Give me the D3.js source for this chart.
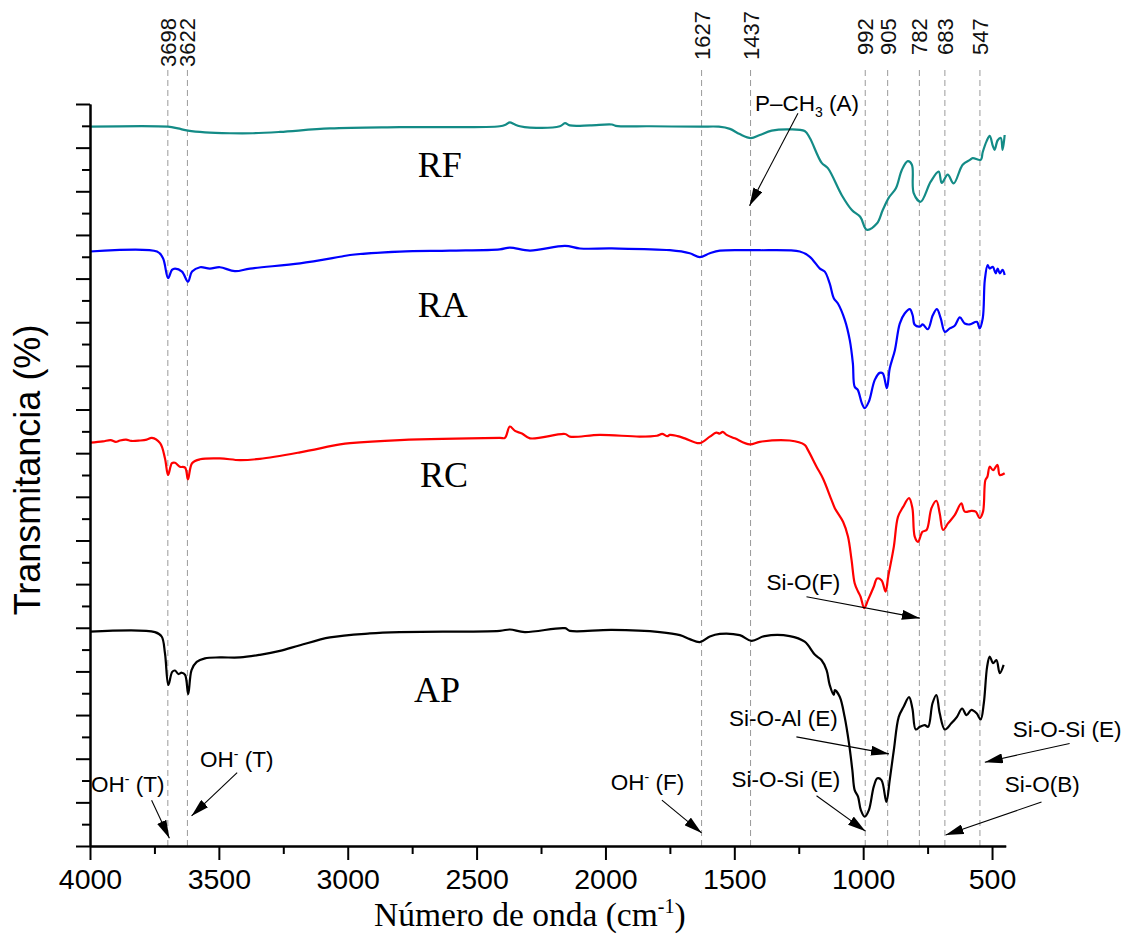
<!DOCTYPE html>
<html>
<head>
<meta charset="utf-8">
<script src="https://cdn.jsdelivr.net/npm/d3@7"></script>
<style>
  html, body { margin: 0; padding: 0; background: #fff; }
  svg { display: block; }
</style>
</head>
<body>
<svg id="chart" width="1127" height="934"></svg>
<script>
// FTIR spectra: [wavenumber (cm-1), transmittance (offset, arbitrary units)]
const RF = [[4000,16.48],[3697,16.48],[3659,16.44],[3620,16.39],[3554,16.35],[3457,16.33],[3368,16.33],[3263,16.36],[3069,16.44],[2798,16.47],[2410,16.49],[2386,16.53],[2371,16.58],[2355,16.54],[2332,16.49],[2293,16.46],[2177,16.49],[2157,16.56],[2138,16.51],[2060,16.51],[1975,16.53],[1960,16.50],[1828,16.49],[1634,16.48],[1560,16.48],[1517,16.43],[1479,16.31],[1436,16.22],[1401,16.29],[1355,16.39],[1285,16.42],[1227,16.38],[1207,16.22],[1161,15.65],[1137,15.53],[1083,14.91],[1044,14.57],[1011,14.41],[986,14.12],[947,14.26],[924,14.57],[901,14.85],[873,15.07],[850,15.49],[827,15.69],[811,15.61],[804,14.96],[777,14.76],[738,15.22],[707,15.45],[695,15.19],[672,15.38],[649,15.18],[614,15.61],[586,15.72],[575,15.76],[544,15.72],[536,15.90],[521,16.15],[509,16.27],[497,16.04],[490,15.95],[478,16.17],[466,16.22],[459,15.95],[451,16.29]];

const RA = [[4000,13.62],[3740,13.62],[3717,13.47],[3697,13.01],[3682,13.20],[3670,13.23],[3643,13.16],[3620,12.93],[3604,13.16],[3573,13.26],[3535,13.23],[3496,13.26],[3438,13.17],[3379,13.23],[3185,13.35],[3030,13.50],[2991,13.54],[2798,13.62],[2604,13.64],[2410,13.67],[2371,13.71],[2293,13.64],[2157,13.75],[2099,13.69],[1975,13.69],[1750,13.65],[1673,13.58],[1634,13.49],[1595,13.58],[1556,13.64],[1440,13.65],[1401,13.65],[1246,13.62],[1207,13.50],[1168,13.23],[1149,13.16],[1130,12.89],[1114,12.55],[1098,12.43],[1071,12.05],[1052,11.59],[1040,11.06],[1033,10.52],[1021,10.45],[1005,10.14],[994,10.03],[978,10.18],[955,10.68],[936,10.84],[924,10.83],[908,10.49],[897,10.94],[877,11.36],[858,11.97],[839,12.20],[819,12.30],[808,12.16],[800,11.94],[780,11.90],[769,11.95],[749,11.84],[730,12.16],[714,12.30],[699,12.09],[683,11.78],[664,11.86],[645,11.92],[625,12.11],[606,11.97],[586,11.95],[559,12.01],[548,11.86],[536,12.09],[528,12.97],[517,13.31],[509,13.23],[497,13.27],[486,13.12],[478,13.23],[470,13.12],[459,13.20],[451,13.08]];

const RC = [[4000,9.24],[3950,9.27],[3920,9.30],[3900,9.26],[3884,9.29],[3860,9.31],[3840,9.28],[3806,9.29],[3780,9.31],[3760,9.35],[3728,9.23],[3709,8.88],[3697,8.50],[3682,8.77],[3670,8.78],[3651,8.69],[3631,8.67],[3620,8.40],[3604,8.77],[3573,8.86],[3496,8.88],[3418,8.84],[3341,8.87],[3185,9.02],[3030,9.20],[2991,9.23],[2798,9.30],[2410,9.35],[2390,9.35],[2371,9.61],[2351,9.51],[2324,9.45],[2293,9.34],[2157,9.44],[2138,9.38],[2022,9.42],[1867,9.38],[1800,9.40],[1780,9.44],[1760,9.39],[1750,9.42],[1720,9.39],[1692,9.34],[1634,9.23],[1595,9.38],[1570,9.47],[1556,9.45],[1545,9.49],[1530,9.42],[1498,9.34],[1440,9.20],[1401,9.26],[1285,9.29],[1227,9.19],[1214,9.07],[1181,8.69],[1156,8.42],[1123,7.93],[1110,7.74],[1078,7.43],[1059,7.09],[1045,6.55],[1033,6.02],[1020,5.83],[1010,5.71],[996,5.45],[981,5.64],[959,5.94],[946,6.13],[929,6.09],[913,5.83],[903,6.17],[881,6.86],[865,7.54],[845,7.77],[822,7.97],[809,7.74],[800,7.09],[787,6.97],[770,7.20],[754,7.24],[735,7.74],[716,7.91],[703,7.62],[690,7.24],[671,7.39],[645,7.58],[619,7.85],[606,7.66],[580,7.68],[563,7.66],[548,7.51],[535,7.66],[526,8.38],[518,8.46],[509,8.69],[496,8.61],[479,8.73],[470,8.50],[451,8.54]];

const AP = [[4000,4.91],[3748,4.90],[3722,4.80],[3709,4.41],[3696,3.69],[3681,3.99],[3670,4.02],[3657,3.94],[3644,3.97],[3631,3.92],[3619,3.48],[3606,4.03],[3586,4.22],[3554,4.30],[3496,4.32],[3418,4.32],[3341,4.38],[3263,4.47],[3185,4.60],[3069,4.78],[2914,4.87],[2798,4.90],[2410,4.93],[2371,4.96],[2313,4.90],[2157,4.99],[2138,4.93],[1975,4.95],[1789,4.90],[1711,4.83],[1673,4.74],[1634,4.67],[1595,4.80],[1556,4.86],[1479,4.83],[1433,4.70],[1382,4.81],[1285,4.81],[1227,4.68],[1187,4.38],[1162,4.26],[1142,4.03],[1130,3.69],[1114,3.46],[1110,3.57],[1091,3.42],[1072,2.96],[1055,2.35],[1042,1.74],[1033,1.28],[1020,1.13],[1009,0.82],[994,0.67],[978,0.82],[959,1.36],[945,1.55],[929,1.51],[910,1.01],[897,1.51],[881,2.20],[862,2.96],[843,3.19],[822,3.41],[809,3.15],[796,2.67],[780,2.73],[761,2.77],[748,2.73],[731,3.27],[716,3.46],[703,3.04],[683,2.67],[658,2.81],[636,2.96],[616,3.15],[599,3.00],[580,3.12],[560,3.04],[544,2.90],[532,3.27],[519,4.11],[509,4.34],[496,4.19],[483,4.26],[470,3.96],[455,4.15]];

const seriesNames  = ["RF", "RA", "RC", "AP"];
const seriesColors = ["#138b86", "#0000ff", "#ff0000", "#000000"];
// label anchor for each spectrum name: [wavenumber, transmittance]
const seriesLabelPos = [[2728,15.33],[2728,12.12],[2720,8.22],[2743,3.30]];

// band positions marked with dashed guides
const peaks = [3698, 3622, 1627, 1437, 992, 905, 782, 683, 547];

// x axis ticks
const xMajorTicks = [4000, 3500, 3000, 2500, 2000, 1500, 1000, 500];
const xMinorTicks = [3750, 3250, 2750, 2250, 1750, 1250, 750];

// band assignments: text parts, text anchor, arrow start, arrow tip (data units)
const annotations = [
  { parts: [["P\u2013CH"], ["3", "sub"], [" (A)"]], at: [1420, 16.84], from: [1253, 16.79], to: [1441, 14.67] },
  { parts: [["Si-O(F)"]], at: [1375, 5.86], from: [1220, 5.71], to: [780, 5.22] },
  { parts: [["Si-O-Al (E)"]], at: [1521, 2.75], from: [1259, 2.50], to: [900, 2.11] },
  { parts: [["Si-O-Si (E)"]], at: [1511, 1.36], from: [1181, 1.15], to: [991, 0.34] },
  { parts: [["Si-O-Si (E)"]], at: [420, 2.49], from: [199, 2.35], to: [528, 1.92] },
  { parts: [["Si-O(B)"]], at: [451, 1.24], from: [308, 1.01], to: [680, 0.25] },
  { parts: [["OH"], ["-", "sup"], [" (T)"]], at: [3996, 1.24], from: [3761, 1.05], to: [3692, 0.18] },
  { parts: [["OH"], ["-", "sup"], [" (T)"]], at: [3573, 1.82], from: [3429, 1.68], to: [3606, 0.69] },
  { parts: [["OH"], ["-", "sup"], [" (F)"]], at: [1979, 1.28], from: [1781, 1.05], to: [1627, 0.30] }
];

const svg = d3.select("#chart");
const plot = { left: 90, right: 1005.7, top: 104, bottom: 846 };

const x = d3.scaleLinear().domain([4000, 447]).range([plot.left, plot.right]);
const y = d3.scaleLinear().domain([0, 17]).range([plot.bottom, plot.top]);

const sans = "'Liberation Sans', Arial, sans-serif";
const serif = "'Liberation Serif', 'Times New Roman', serif";

// arrowhead
svg.append("defs").append("marker")
  .attr("id", "arrowhead")
  .attr("markerUnits", "userSpaceOnUse")
  .attr("viewBox", "0 0 18 10")
  .attr("refX", 18).attr("refY", 5)
  .attr("markerWidth", 18).attr("markerHeight", 10)
  .attr("orient", "auto")
  .append("path").attr("d", "M0,0 L18,5 L0,10 Z").attr("fill", "#000");

// dashed guides
const guides = svg.append("g");
guides.selectAll("line").data(peaks).join("line")
  .attr("x1", d => x(d)).attr("x2", d => x(d))
  .attr("y1", 70).attr("y2", plot.bottom)
  .attr("stroke", "#9a9a9a").attr("stroke-width", 1)
  .attr("stroke-dasharray", "6,4");

guides.selectAll("text").data(peaks).join("text")
  .attr("transform", d => {
    const yb = d > 3000 ? 67 : (d > 999 ? 60 : 55);
    return `translate(${x(d) + 8},${yb}) rotate(-90)`;
  })
  .attr("font-family", sans).attr("font-size", 22).attr("fill", "#111")
  .text(d => d);

// spectra
const line = d3.line()
  .x(d => x(d[0])).y(d => y(d[1]))
  .curve(d3.curveCatmullRom.alpha(0.5));

[RF, RA, RC, AP].forEach((s, i) => {
  svg.append("path")
    .datum(s)
    .attr("d", line)
    .attr("fill", "none")
    .attr("stroke", seriesColors[i])
    .attr("stroke-width", 2.2)
    .attr("stroke-linejoin", "round");
});

// spectrum names
svg.append("g").selectAll("text").data(seriesNames).join("text")
  .attr("x", (d, i) => x(seriesLabelPos[i][0]))
  .attr("y", (d, i) => y(seriesLabelPos[i][1]))
  .attr("font-family", serif).attr("font-size", 36).attr("fill", "#000")
  .text(d => d);

// band assignment labels and arrows
const ann = svg.append("g");
annotations.forEach(a => {
  ann.append("line")
    .attr("x1", x(a.from[0])).attr("y1", y(a.from[1]))
    .attr("x2", x(a.to[0])).attr("y2", y(a.to[1]))
    .attr("stroke", "#000").attr("stroke-width", 1.1)
    .attr("marker-end", "url(#arrowhead)");
  const t = ann.append("text")
    .attr("x", x(a.at[0])).attr("y", y(a.at[1]))
    .attr("font-family", sans).attr("font-size", 22.5).attr("fill", "#000");
  let shift = 0;
  a.parts.forEach(p => {
    const ts = t.append("tspan").text(p[0]);
    let target = 0;
    if (p[1] === "sub") { ts.attr("font-size", 14); target = 6; }
    else if (p[1] === "sup") { ts.attr("font-size", 14); target = -8; }
    ts.attr("dy", target - shift);
    shift = target;
  });
});

// axes
const axisStyle = g => {
  g.select(".domain").attr("stroke", "#000").attr("stroke-width", 2);
  g.selectAll(".tick line").attr("stroke", "#000").attr("stroke-width", 2);
};

svg.append("g")
  .attr("transform", `translate(0,${plot.bottom})`)
  .call(d3.axisBottom(x).tickValues(xMinorTicks).tickSize(8).tickFormat("").tickSizeOuter(0))
  .call(axisStyle);
const xAxis = svg.append("g")
  .attr("transform", `translate(0,${plot.bottom})`)
  .call(d3.axisBottom(x).tickValues(xMajorTicks).tickSize(14).tickPadding(9).tickSizeOuter(0).tickFormat(d3.format("d")))
  .call(axisStyle);
xAxis.selectAll(".tick text")
  .attr("font-family", sans).attr("font-size", 28.5).attr("fill", "#000");

const yMajor = d3.range(0, 17.01, 1);
const yMinor = d3.range(0.5, 17, 1);
svg.append("g")
  .attr("transform", `translate(${plot.left},0)`)
  .call(d3.axisLeft(y).tickValues(yMinor).tickSize(8).tickFormat("").tickSizeOuter(0))
  .call(axisStyle);
svg.append("g")
  .attr("transform", `translate(${plot.left},0)`)
  .call(d3.axisLeft(y).tickValues(yMajor).tickSize(14).tickFormat("").tickSizeOuter(0))
  .call(axisStyle);

// axis titles
const xt = svg.append("text")
  .attr("x", (plot.left + plot.right) / 2 - 18).attr("y", 925.5)
  .attr("text-anchor", "middle")
  .attr("font-family", serif).attr("font-size", 33.5).attr("fill", "#000");
xt.append("tspan").text("N\u00famero de onda (cm");
xt.append("tspan").attr("font-size", 20).attr("dy", -13).text("-1");
xt.append("tspan").attr("dy", 13).text(")");

svg.append("text")
  .attr("transform", `translate(40,${(plot.top + plot.bottom) / 2 - 5}) rotate(-90)`)
  .attr("text-anchor", "middle")
  .attr("font-family", sans).attr("font-size", 36).attr("fill", "#000")
  .text("Transmitancia (%)");
</script>
</body>
</html>
